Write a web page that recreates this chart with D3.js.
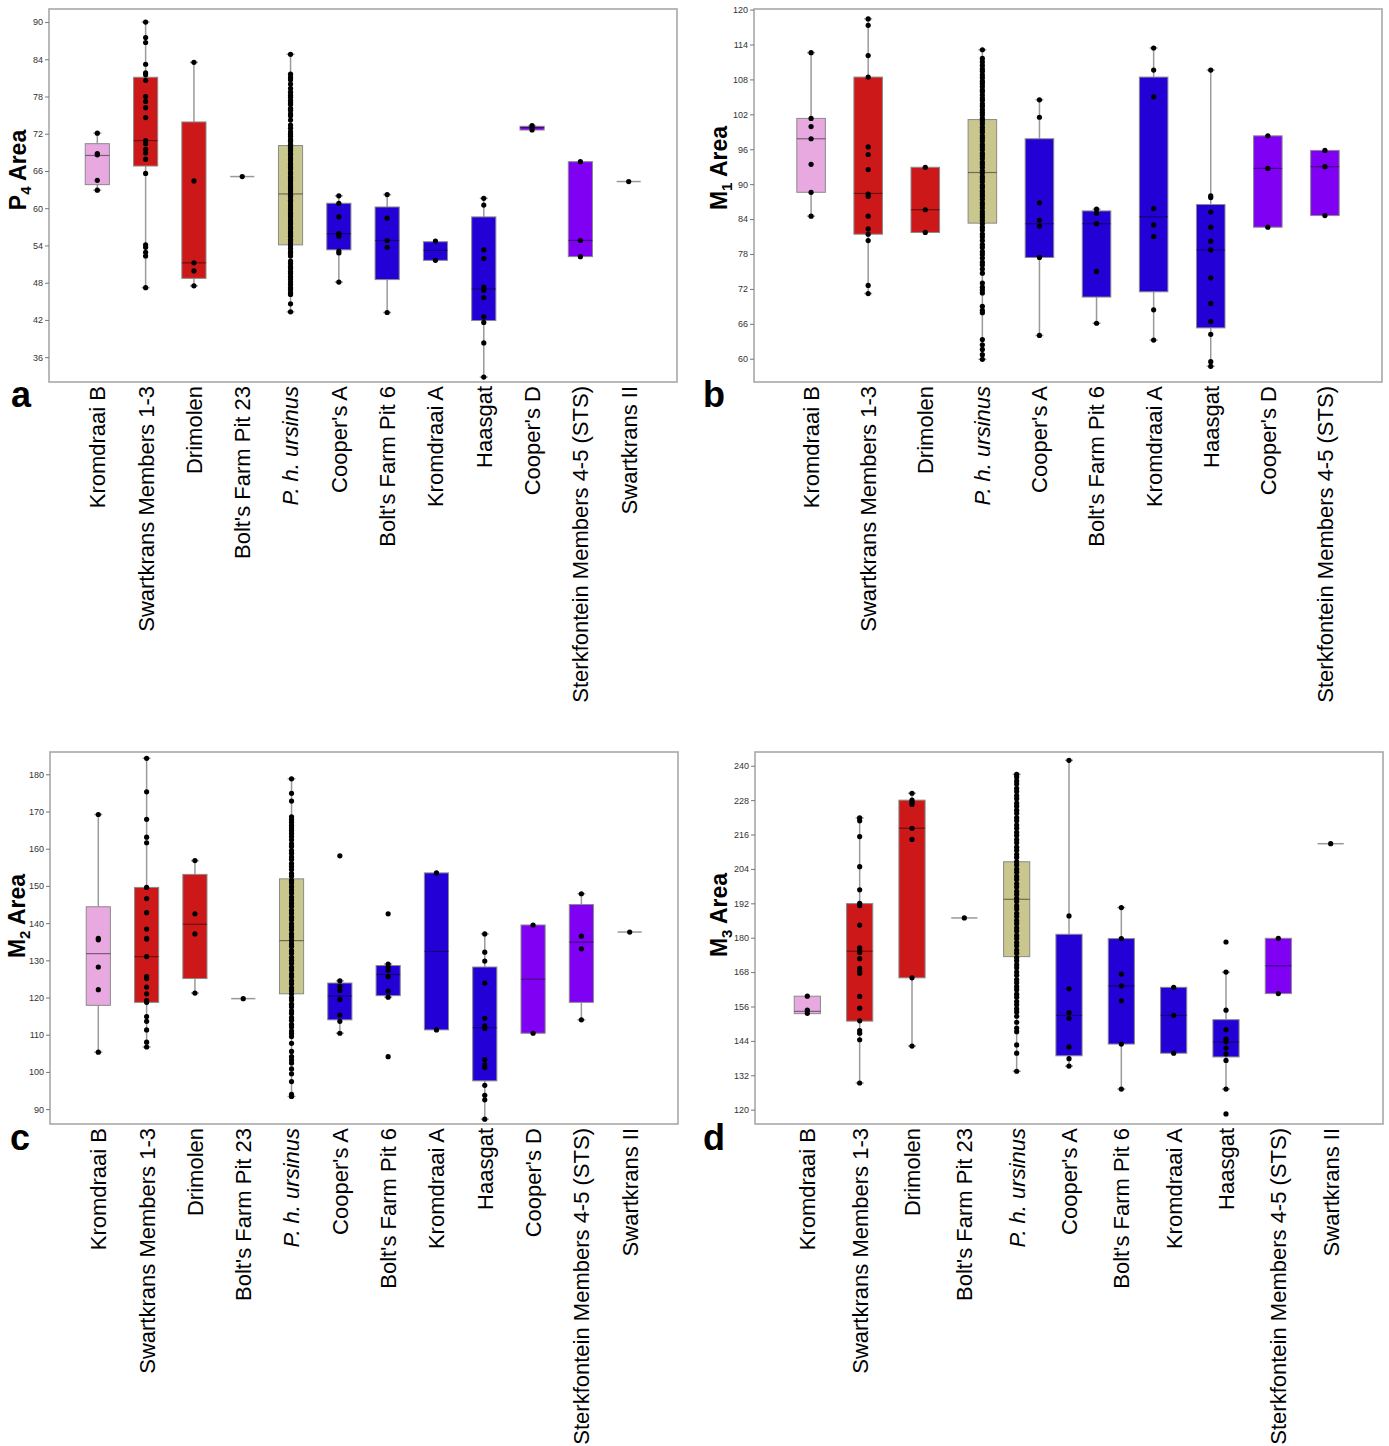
<!DOCTYPE html>
<html><head><meta charset="utf-8">
<script src="https://cdn.jsdelivr.net/npm/d3@7/dist/d3.min.js"></script>
<style>body{margin:0;background:#fff;font-family:"Liberation Sans",Arial,sans-serif}</style>
</head><body><svg id="chart" width="1389" height="1446"></svg>
<script>
// ---------- DATA ----------
const catsAC = ["Kromdraai B","Swartkrans Members 1-3","Drimolen","Bolt's Farm Pit 23","P. h. ursinus","Cooper's A","Bolt's Farm Pit 6","Kromdraai A","Haasgat","Cooper's D","Sterkfontein Members 4-5 (STS)","Swartkrans II"];
const catsB = ["Kromdraai B","Swartkrans Members 1-3","Drimolen","P. h. ursinus","Cooper's A","Bolt's Farm Pit 6","Kromdraai A","Haasgat","Cooper's D","Sterkfontein Members 4-5 (STS)"];
const catsD = ["Kromdraai B","Swartkrans Members 1-3","Drimolen","Bolt's Farm Pit 23","P. h. ursinus","Cooper's A","Bolt's Farm Pit 6","Kromdraai A","Haasgat","Sterkfontein Members 4-5 (STS)","Swartkrans II"];

const ticksA = [36,42,48,54,60,66,72,78,84,90];
const ticksB = [60,66,72,78,84,90,96,102,108,114,120];
const ticksC = [90,100,110,120,130,140,150,160,170,180];
const ticksD = [120,132,144,156,168,180,192,204,216,228,240];

// Panel a : P4 area
const q1A  = [63.8,66.8,48.7,65.1,54.1,53.3,48.5,51.6,41.9,72.6,52.2,64.3];
const medA = [68.5,70.9,51.2,65.1,62.3,55.9,54.8,53.2,47.0,73.0,54.8,64.3];
const q3A  = [70.4,81.1,73.9,65.1,70.1,60.8,60.2,54.6,58.6,73.2,67.5,64.3];
const loA  = [62.9,47.2,47.5,65.1,43.3,48.1,43.2,51.6,32.8,72.6,52.2,64.3];
const hiA  = [72.1,90.0,83.5,65.1,84.8,62.0,62.2,54.6,61.6,73.3,67.5,64.3];
const ptsA = [
  [72.1,68.8,68.6,64.5,62.9],
  [90,87.5,86.7,83.2,81.8,81.5,80.6,78,77.2,76.2,74.6,70.9,70.4,69.5,68.9,67.9,65.6,54.1,53.7,52.9,52.3,47.2],
  [83.5,64.4,51.2,49.9,47.5],
  [65.1],
  [84.8,81.6,81.1,80.7,80.0,79.3,78.7,78.2,77.9,77.4,77.0,76.7,76.1,75.8,75.2,74.9,74.2,73.4,72.9,72.3,71.9,71.6,71.1,70.8,70.3,70.0,69.6,69.3,68.8,68.6,68.1,67.8,67.3,67.0,66.6,66.3,65.8,65.5,65.0,64.6,64.3,63.9,63.5,63.2,62.8,62.4,62.1,61.8,61.3,61.0,60.5,60.2,59.8,59.3,59.0,58.6,58.1,57.8,57.5,57.0,56.7,56.2,55.9,55.5,55.0,54.7,54.3,53.9,53.5,53.0,52.7,52.3,51.5,51.1,50.6,50.3,49.8,49.5,49.0,48.6,48.1,47.7,47.2,46.9,46.4,46.1,44.6,43.3],
  [62,60.8,58.6,55.9,55.5,53.1,52.8,48.1],
  [62.2,58.4,54.8,53.7,43.2],
  [54.7,51.6],
  [61.6,60.5,53.3,51.9,47.3,46.8,45.6,42.5,41.6,38.3,32.8],
  [73.3,73.0,72.6],
  [67.5,54.8,52.2],
  [64.3]
];

// Panel b : M1 area
const q1B  = [88.6,81.4,81.7,83.3,77.4,70.6,71.5,65.3,82.6,84.6];
const medB = [97.8,88.4,85.6,92.0,83.2,83.2,84.4,78.7,92.7,93.0];
const q3B  = [101.3,108.4,92.9,101.1,97.8,85.4,108.4,86.5,98.3,95.8];
const loB  = [84.5,71.2,81.7,59.9,64.0,66.1,63.2,58.7,82.6,84.6];
const hiB  = [112.6,118.4,92.9,113.1,104.5,85.7,113.4,109.6,98.3,95.8];
const ptsB = [
  [112.6,101.3,99.9,97.8,93.4,88.6,84.5],
  [118.4,117.3,112.1,108.4,96.4,95.1,92.5,88.3,87.9,84.5,82.3,81.4,80.3,72.6,71.2],
  [92.9,85.6,81.7],
  [113.1,111.6,111.0,110.4,109.8,109.4,108.8,108.3,107.7,107.3,106.8,106.2,105.9,105.3,104.8,104.4,103.8,103.4,102.8,102.3,101.9,101.3,100.9,100.4,99.8,99.3,98.9,98.3,97.9,97.4,96.8,96.4,95.9,95.3,94.9,94.4,93.8,93.4,92.9,92.3,91.9,91.3,90.9,90.4,89.8,89.4,88.8,88.3,87.9,87.4,86.8,86.4,85.9,85.3,84.8,84.3,83.8,83.2,82.6,82.1,81.4,80.9,80.3,79.6,79.1,78.4,77.9,77.3,76.6,76.1,75.4,74.7,73.0,72.3,71.8,71.3,69.0,68.3,67.9,63.3,62.4,61.6,60.7,59.9],
  [104.5,101.5,86.8,83.8,82.8,77.4,64.0],
  [85.7,85.0,83.2,75.0,66.1],
  [113.4,109.6,105.0,85.8,83.0,81.0,68.4,63.2],
  [109.6,88.0,87.7,85.2,82.6,80.2,78.7,73.9,69.5,66.4,64.2,59.5,58.7],
  [98.3,92.7,82.6],
  [95.8,93.0,84.6]
];

// Panel c : M2 area
const q1C  = [117.9,118.7,125.1,119.7,121.0,114.0,120.5,111.3,97.6,110.4,118.7,137.6];
const medC = [131.8,131.0,139.7,119.7,135.3,120.4,126.2,132.4,111.9,124.9,134.9,137.6];
const q3C  = [144.4,149.6,153.1,119.7,151.9,123.9,128.6,153.5,128.2,139.5,145.0,137.6];
const loC  = [105.3,106.7,121.2,119.7,93.4,110.4,120.1,111.3,87.3,110.4,114.0,137.6];
const hiC  = [169.2,184.3,156.8,119.7,178.8,124.5,129.0,153.5,137.1,139.5,147.9,137.6];
const ptsC = [
  [169.2,135.9,135.5,128.2,122.1,105.3],
  [184.3,175.3,167.9,163.1,161.6,149.6,146.6,142.8,138.4,135.9,135.7,131.0,125.6,125.1,122.8,121.0,119.2,118.7,114.9,113.6,111.3,108.0,106.7],
  [156.8,142.5,137.1,121.2],
  [119.7],
  [178.8,174.9,172.8,168.6,167.8,167.1,166.3,165.6,164.9,164.1,163.3,162.4,161.3,160.6,159.5,158.8,157.8,157.1,156.0,155.2,154.4,153.3,152.6,151.5,150.8,149.8,148.9,148.1,147.0,146.2,145.3,144.5,143.4,142.6,141.6,140.9,139.8,139.0,138.2,137.1,136.3,135.4,134.4,133.7,132.6,131.9,130.8,130.0,129.2,128.1,127.4,126.3,125.6,124.5,123.7,122.6,121.9,121.0,120.0,119.3,118.2,117.5,116.4,115.7,114.6,113.9,112.8,112.1,111.0,110.3,109.5,107.7,105.5,104.1,103.2,102.4,100.8,99.5,97.4,94.0,93.4],
  [158.1,124.5,123.0,121.9,119.5,115.3,113.6,110.4],
  [142.5,129.0,128.2,127.3,125.6,121.7,120.1,104.1],
  [153.5,111.3],
  [137.1,132.2,129.8,123.9,114.4,112.4,111.7,103.3,101.9,101.2,96.4,93.7,92.5,87.3],
  [139.5,110.4],
  [147.9,136.5,133.1,114.0],
  [137.6]
];

// Panel d : M3 area
const q1D  = [153.5,150.9,166.0,186.9,173.4,138.8,142.9,139.7,138.4,160.5,212.8];
const medD = [154.3,175.3,218.2,186.9,193.4,152.9,163.2,152.9,143.6,170.2,212.8];
const q3D  = [159.6,191.9,228.0,186.9,206.5,181.2,179.7,162.7,151.4,179.8,212.8];
const loD  = [153.5,129.3,142.2,186.9,133.4,135.2,127.2,139.7,127.2,160.5,212.8];
const hiD  = [159.6,221.8,230.4,186.9,237.0,241.9,190.5,162.7,168.0,179.8,212.8];
const ptsD = [
  [159.6,154.7,153.6],
  [221.8,220.8,215.3,204.8,196.7,192.0,191.2,184.4,176.5,175.6,174.8,172.7,169.3,168.3,167.6,159.5,155.4,151.0,147.6,146.7,144.4,129.3],
  [230.4,228.0,227.3,226.5,218.2,214.3,166.0,142.2],
  [186.9],
  [237.0,236.1,234.7,233.6,232.1,231.0,229.6,228.5,227.0,225.9,224.5,223.4,221.9,220.8,219.3,218.2,216.8,215.7,214.2,213.1,211.6,210.5,209.1,208.0,206.5,205.4,203.9,202.8,201.4,200.3,198.8,197.7,196.2,195.1,193.7,192.6,191.1,190.0,188.5,187.4,186.0,184.9,183.4,182.3,180.8,179.7,178.3,177.2,175.7,174.6,173.1,172.0,170.6,169.5,168.0,166.9,165.4,164.3,162.9,161.8,160.3,159.2,157.7,156.6,155.2,154.1,152.6,150.5,148.5,147.2,142.6,139.7,133.4],
  [241.9,187.6,162.2,153.9,151.9,141.9,137.8,135.2],
  [190.5,179.7,167.3,163.2,158.0,142.9,127.2],
  [162.7,152.9,139.7],
  [178.5,168.0,154.7,147.9,144.6,143.7,141.5,139.5,137.2,127.2,118.5],
  [179.8,160.5],
  [212.8]
];

// ---------- STYLE ----------
const fillOf = {
  "Kromdraai B":"#E8A8E0",
  "Swartkrans Members 1-3":"#CC1818",
  "Drimolen":"#CC1818",
  "P. h. ursinus":"#C9C68E",
  "Cooper's A":"#2200D6",
  "Bolt's Farm Pit 6":"#2200D6",
  "Kromdraai A":"#2200D6",
  "Haasgat":"#2200D6",
  "Cooper's D":"#7F00F2",
  "Sterkfontein Members 4-5 (STS)":"#7F00F2"
};

const svg = d3.select("#chart");

function panel(o){
  const g = svg.append("g").attr("transform",`translate(${o.x},${o.y})`);
  const x = d3.scalePoint().domain(o.cats).range([0,o.w]).padding(1);
  const y = d3.scaleLinear().domain(o.domain).range([o.h,0]);
  const bw = x.step()*0.5;

  // frame
  g.append("rect").attr("width",o.w).attr("height",o.h)
    .attr("fill","none").attr("stroke","#a8a8a8").attr("stroke-width",1.6);

  // y axis
  const ax = g.append("g").call(d3.axisLeft(y).tickValues(o.ticks).tickSize(4).tickPadding(2));
  ax.select(".domain").remove();
  ax.selectAll(".tick line").attr("stroke","#777");
  ax.selectAll(".tick text").attr("fill","#333").attr("font-size",9)
    .attr("font-family","Liberation Sans, Arial, sans-serif");

  // y title
  const t = g.append("text")
    .attr("transform",`translate(${o.titleX},${o.titleY}) rotate(-90)`)
    .attr("text-anchor","middle").attr("font-weight","bold").attr("font-size",23)
    .attr("font-family","Liberation Sans, Arial, sans-serif");
  t.append("tspan").text(o.sym);
  t.append("tspan").text(o.sub).attr("font-size",15).attr("dy","0.35em");
  t.append("tspan").text(" Area").attr("dy","-0.23em");

  // category labels
  g.append("g").selectAll("text").data(o.cats).join("text")
    .attr("transform",d=>`translate(${x(d)},${o.h+4}) rotate(-90)`)
    .attr("text-anchor","end").attr("dy","0.36em").attr("font-size",22)
    .attr("font-style",d=>d==="P. h. ursinus"?"italic":"normal")
    .attr("font-family","Liberation Sans, Arial, sans-serif")
    .text(d=>d);

  // panel letter
  svg.append("text").attr("x",o.lx).attr("y",o.ly).attr("font-size",36)
    .attr("font-weight","bold").attr("font-family","Liberation Sans, Arial, sans-serif").text(o.letter);

  const rows = o.cats.map((c,i)=>({c,q1:o.q1[i],med:o.med[i],q3:o.q3[i],lo:o.lo[i],hi:o.hi[i],pts:o.pts[i]}));
  const bg = g.append("g");
  rows.forEach(r=>{
    const cx = x(r.c);
    if(r.q1===r.q3){
      bg.append("line").attr("x1",cx-bw/2).attr("x2",cx+bw/2).attr("y1",y(r.med)).attr("y2",y(r.med))
        .attr("stroke","#999").attr("stroke-width",1.5);
    } else {
      if(r.hi>r.q3){
        bg.append("line").attr("x1",cx).attr("x2",cx).attr("y1",y(r.q3)).attr("y2",y(r.hi)).attr("stroke","#9a9a9a").attr("stroke-width",1.5);
        bg.append("line").attr("x1",cx-4).attr("x2",cx+4).attr("y1",y(r.hi)).attr("y2",y(r.hi)).attr("stroke","#9a9a9a").attr("stroke-width",1.5);
      }
      if(r.lo<r.q1){
        bg.append("line").attr("x1",cx).attr("x2",cx).attr("y1",y(r.q1)).attr("y2",y(r.lo)).attr("stroke","#9a9a9a").attr("stroke-width",1.5);
        bg.append("line").attr("x1",cx-4).attr("x2",cx+4).attr("y1",y(r.lo)).attr("y2",y(r.lo)).attr("stroke","#9a9a9a").attr("stroke-width",1.5);
      }
      bg.append("rect").attr("x",cx-bw/2).attr("width",bw).attr("y",y(r.q3)).attr("height",Math.max(1,y(r.q1)-y(r.q3)))
        .attr("fill",fillOf[r.c]).attr("stroke","#8a8a8a").attr("stroke-width",1);
      bg.append("line").attr("x1",cx-bw/2).attr("x2",cx+bw/2).attr("y1",y(r.med)).attr("y2",y(r.med))
        .attr("stroke","rgba(0,0,0,0.45)").attr("stroke-width",1.2);
    }
    bg.append("g").selectAll("circle").data(r.pts).join("circle")
      .attr("cx",cx).attr("cy",d=>y(d)).attr("r",2.6).attr("fill","#000");
  });
}

panel({x:49,y:9,w:628,h:373,cats:catsAC,domain:[32,92.1],ticks:ticksA,q1:q1A,med:medA,q3:q3A,lo:loA,hi:hiA,pts:ptsA,sym:"P",sub:"4",titleX:-23,titleY:161,letter:"a",lx:11,ly:407});
panel({x:754,y:9,w:628,h:373,cats:catsB,domain:[56,120.1],ticks:ticksB,q1:q1B,med:medB,q3:q3B,lo:loB,hi:hiB,pts:ptsB,sym:"M",sub:"1",titleX:-27,titleY:159,letter:"b",lx:703,ly:407});
panel({x:50,y:752,w:628,h:372,cats:catsAC,domain:[86,186],ticks:ticksC,q1:q1C,med:medC,q3:q3C,lo:loC,hi:hiC,pts:ptsC,sym:"M",sub:"2",titleX:-25,titleY:164,letter:"c",lx:10,ly:1150});
panel({x:755,y:752,w:628,h:372,cats:catsD,domain:[115,244.8],ticks:ticksD,q1:q1D,med:medD,q3:q3D,lo:loD,hi:hiD,pts:ptsD,sym:"M",sub:"3",titleX:-28,titleY:163,letter:"d",lx:703,ly:1150});
</script>
</body></html>
